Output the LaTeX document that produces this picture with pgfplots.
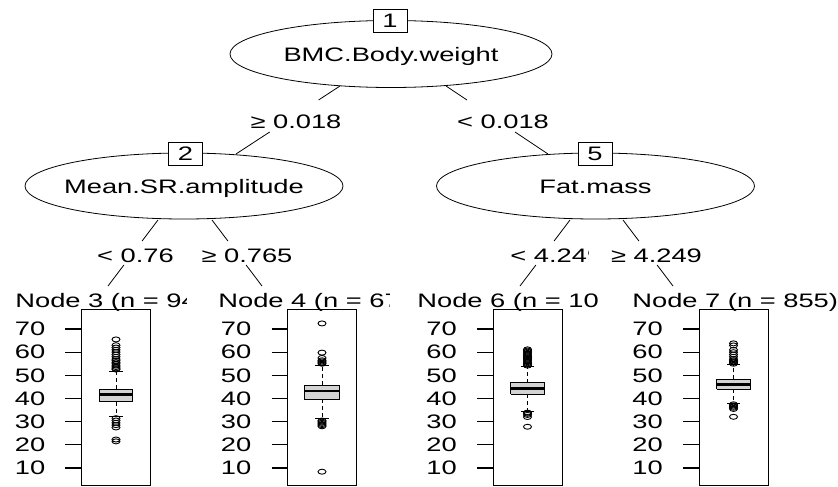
\documentclass[border=0pt]{standalone}
\usepackage{fontspec}
\setmainfont[FakeStretch=1.4]{Liberation Sans}
\usepackage{pgfplots}
\pgfplotsset{compat=1.18}
\definecolor{boxgray}{RGB}{211,211,211}
\newcommand\tf{\fontsize{19.5bp}{23bp}\selectfont}
\pgfplotsset{
  leaf/.style={
    anchor=south west, scale only axis, width=69bp, height=176bp,
    xmin=0, xmax=2, ymin=2.66, ymax=78.63,
    axis line style={line width=1bp, black},
    xtick=\empty, ytick={10,20,30,40,50,60,70},
    tick align=outside, ytick pos=left, major tick length=16bp,
    tick style={line width=1.1bp, black},
    yticklabel style={font=\tf, inner sep=0pt, xshift=-20bp},
    /pgf/number format/assume math mode=true,
  },
  whisk/.style={black, line width=0.9bp, dash pattern=on 4bp off 3bp, mark=none},
  staple/.style={black, line width=0.9bp, mark=none},
  boxs/.style={fill=boxgray, draw=black, line width=0.9bp, mark=none},
  med/.style={black, line width=2.6bp, mark=none},
  outl/.style={only marks, black, mark=o, mark size=2.5bp,
    mark options={xscale=1.6, line width=0.9bp, fill=none, solid}},
}
\begin{document}
\begin{tikzpicture}[font=\tf]
\path[use as bounding box] (0bp,0bp) rectangle (838bp,-487bp);

% Node 3: lw 32.1, lq 38.6, med 41.7, uq 44.0, uw 51.6
\begin{axis}[leaf, at={(81.5bp,-485bp)}]
\addplot[whisk] coordinates {(1,44.0) (1,51.6)};
\addplot[whisk] coordinates {(1,38.6) (1,32.1)};
\addplot[staple] coordinates {(0.81,51.6) (1.19,51.6)};
\addplot[staple] coordinates {(0.81,32.1) (1.19,32.1)};
\addplot[boxs] coordinates {(0.51,38.6) (1.49,38.6) (1.49,44.0) (0.51,44.0) (0.51,38.6)};
\addplot[med] coordinates {(0.51,41.7) (1.49,41.7)};
\addplot[outl] coordinates {(1,52.5) (1,53) (1,53.6) (1,54.2) (1,55) (1,55.6) (1,56.3) (1,57) (1,58) (1,59) (1,60) (1,61) (1,62) (1,63) (1,65.5)
  (1,31.5) (1,30.5) (1,29.5) (1,28.5) (1,27.5) (1,22.3) (1,21.5)};
\end{axis}

% Node 4: lw 31.6, lq 39.8, med 43.2, uq 45.8, uw 54.2
\begin{axis}[leaf, at={(287.5bp,-485bp)}]
\addplot[whisk] coordinates {(1,45.8) (1,54.2)};
\addplot[whisk] coordinates {(1,39.8) (1,31.6)};
\addplot[staple] coordinates {(0.81,54.2) (1.19,54.2)};
\addplot[staple] coordinates {(0.81,31.6) (1.19,31.6)};
\addplot[boxs] coordinates {(0.49,39.8) (1.51,39.8) (1.51,45.8) (0.49,45.8) (0.49,39.8)};
\addplot[med] coordinates {(0.49,43.2) (1.51,43.2)};
\addplot[outl] coordinates {(1,55) (1,55.5) (1,56) (1,56.5) (1,57.5) (1,59.8) (1,72.4)
  (1,30.5) (1,30) (1,29.5) (1,29) (1,28.5) (1,28) (1,8.4)};
\end{axis}

% Node 6: lw 34.3, lq 41.8, med 44.4, uq 46.8, uw 53.7
\begin{axis}[leaf, at={(493bp,-485bp)}]
\addplot[whisk] coordinates {(1,46.8) (1,53.7)};
\addplot[whisk] coordinates {(1,41.8) (1,34.3)};
\addplot[staple] coordinates {(0.81,53.7) (1.19,53.7)};
\addplot[staple] coordinates {(0.81,34.3) (1.19,34.3)};
\addplot[boxs] coordinates {(0.51,41.8) (1.49,41.8) (1.49,46.8) (0.51,46.8) (0.51,41.8)};
\addplot[med] coordinates {(0.51,44.4) (1.49,44.4)};
\addplot[outl] coordinates {(1,54.2) (1,54.7) (1,55.2) (1,55.7) (1,56.2) (1,56.7) (1,57.2) (1,57.7) (1,58.2) (1,58.7) (1,59.2) (1,59.7) (1,60.2) (1,60.7) (1,61.2)
  (1,33.9) (1,33.4) (1,32.9) (1,32) (1,27.8)};
\end{axis}

% Node 7: lw 37.9, lq 44.0, med 46.1, uq 48.3, uw 54.5
\begin{axis}[leaf, at={(699bp,-485bp)}]
\addplot[whisk] coordinates {(1,48.3) (1,54.5)};
\addplot[whisk] coordinates {(1,44.0) (1,37.9)};
\addplot[staple] coordinates {(0.81,54.5) (1.19,54.5)};
\addplot[staple] coordinates {(0.81,37.9) (1.19,37.9)};
\addplot[boxs] coordinates {(0.51,44.0) (1.49,44.0) (1.49,48.3) (0.51,48.3) (0.51,44.0)};
\addplot[med] coordinates {(0.51,46.1) (1.49,46.1)};
\addplot[outl] coordinates {(1,55) (1,55.5) (1,56) (1,56.5) (1,57) (1,58) (1,59) (1,60) (1,61) (1,62.9) (1,63.8)
  (1,37.5) (1,37) (1,36.5) (1,36) (1,35.5) (1,32.1)};
\end{axis}

\begin{scope}[x=1bp, y=-1bp, line width=0.8bp]
  % edges
  \draw (340,86) -- (318.6,100);  \draw (269.7,132) -- (236,154);
  \draw (446,86) -- (467,100);    \draw (515,132) -- (548,154);
  \draw (158,220) -- (142.1,241); \draw (123.9,265) -- (108,286);
  \draw (212,220) -- (227.9,241); \draw (246.1,265) -- (262,286);
  \draw (570,220) -- (554.1,241); \draw (535.9,265) -- (520,286);
  \draw (623,220) -- (638.9,241); \draw (657.1,265) -- (673,286);
  % edge labels
  \node[anchor=base, inner sep=0pt] at (296,128) {≥ 0.018};
  \node[anchor=base, inner sep=0pt] at (503,128) {< 0.018};
  \node[anchor=base, inner sep=0pt] at (135.5,262) {< 0.76};
  \node[anchor=base, inner sep=0pt] at (247,262) {≥ 0.765};
  \begin{scope}
    \clip (490,240) rectangle (588.5,270);
    \node[anchor=base west, inner sep=0pt] at (510,262) {< 4.249};
  \end{scope}
  \node[anchor=base, inner sep=0pt] at (656.5,262) {≥ 4.249};
  % inner nodes
  \draw (391,54) ellipse [x radius=161, y radius=33.5];
  \node[anchor=base, inner sep=0pt] at (391,61) {BMC.Body.weight};
  \node[draw, fill=white, minimum width=34bp, minimum height=23bp, inner sep=0pt, line width=0.9bp] at (390,20.5) {1};
  \draw (184,186) ellipse [x radius=159, y radius=33];
  \node[anchor=base, inner sep=0pt] at (184,193) {Mean.SR.amplitude};
  \node[draw, fill=white, minimum width=34bp, minimum height=23bp, inner sep=0pt, line width=0.9bp] at (185.5,153.5) {2};
  \draw (595.5,186) ellipse [x radius=159, y radius=33];
  \node[anchor=base, inner sep=0pt] at (595.5,193) {Fat.mass};
  \node[draw, fill=white, minimum width=34bp, minimum height=23bp, inner sep=0pt, line width=0.9bp] at (595,153.5) {5};
  % leaf labels
  \begin{scope}
    \clip (0,280) rectangle (186,320);
    \node[anchor=base west, inner sep=0pt] at (15,307) {Node 3 (n = 94};
  \end{scope}
  \begin{scope}
    \clip (200,280) rectangle (389,320);
    \node[anchor=base west, inner sep=0pt] at (218,307) {Node 4 (n = 67};
  \end{scope}
  \node[anchor=base west, inner sep=0pt] at (417,307) {Node 6 (n = 10};
  \node[anchor=base west, inner sep=0pt] at (632,307) {Node 7 (n = 855)};
\end{scope}
\end{tikzpicture}
\end{document}
